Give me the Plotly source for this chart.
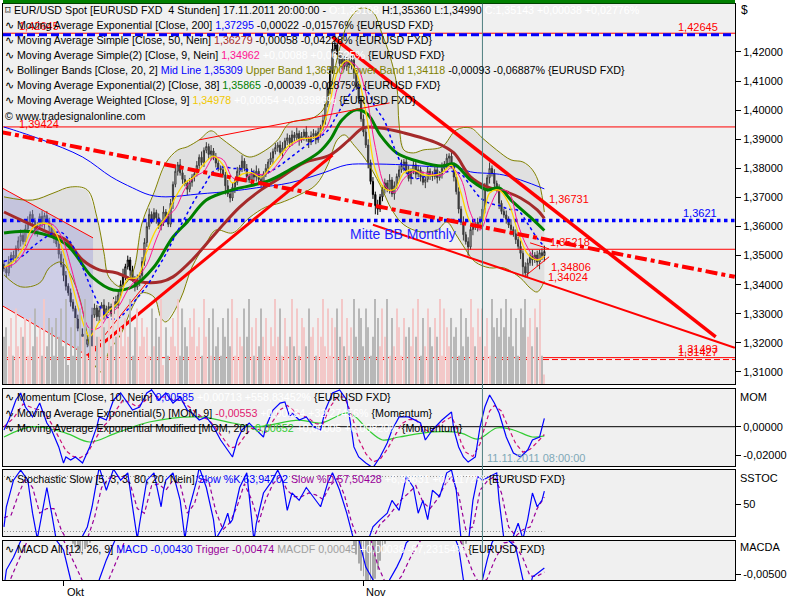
import plotly.graph_objects as go

W, H = 800, 600
FONT = "Liberation Sans"

# ---------------- data ----------------
# 4-hour EUR/USD closes, bar 0 = late September, last bar = 17.11.2011 20:00
close = [
    1.3455, 1.3440, 1.3478, 1.3502, 1.3490, 1.3525, 1.3551, 1.3570, 1.3548, 1.3592,
    1.3615, 1.3642, 1.3620, 1.3580, 1.3601, 1.3635, 1.3612, 1.3638, 1.3620, 1.3598,
    1.3575, 1.3558, 1.3540, 1.3505, 1.3470, 1.3432, 1.3395, 1.3372, 1.3340, 1.3318,
    1.3282, 1.3250, 1.3222, 1.3230, 1.3195, 1.3212, 1.3188, 1.3296, 1.3320, 1.3290,
    1.3312, 1.3330, 1.3295, 1.3318, 1.3325, 1.3300, 1.3342, 1.3330, 1.3365, 1.3400,
    1.3430, 1.3462, 1.3485, 1.3450, 1.3420, 1.3392, 1.3415, 1.3432, 1.3480, 1.3545,
    1.3600, 1.3642, 1.3625, 1.3648, 1.3630, 1.3602, 1.3612, 1.3650, 1.3635, 1.3608,
    1.3680, 1.3745, 1.3790, 1.3812, 1.3785, 1.3762, 1.3748, 1.3728, 1.3752, 1.3770,
    1.3782, 1.3810, 1.3838, 1.3820, 1.3862, 1.3875, 1.3848, 1.3860, 1.3838, 1.3818,
    1.3800, 1.3795, 1.3778, 1.3740, 1.3712, 1.3698, 1.3735, 1.3752, 1.3790, 1.3802,
    1.3825, 1.3800, 1.3772, 1.3760, 1.3785, 1.3770, 1.3790, 1.3762, 1.3745, 1.3780,
    1.3800, 1.3822, 1.3835, 1.3858, 1.3872, 1.3880, 1.3855, 1.3870, 1.3895, 1.3905,
    1.3888, 1.3915, 1.3905, 1.3920, 1.3898, 1.3910, 1.3925, 1.3902, 1.3890, 1.3912,
    1.3920, 1.3898, 1.3925, 1.3940, 1.3965, 1.4020, 1.4075, 1.4135, 1.4210, 1.4225,
    1.4190, 1.4160, 1.4175, 1.4150, 1.4168, 1.4155, 1.4172, 1.4128, 1.4080, 1.4040,
    1.3970, 1.3925, 1.3880, 1.3820, 1.3755, 1.3710, 1.3672, 1.3660, 1.3702, 1.3728,
    1.3750, 1.3728, 1.3760, 1.3712, 1.3740, 1.3772, 1.3795, 1.3810, 1.3822, 1.3790,
    1.3765, 1.3790, 1.3812, 1.3780, 1.3795, 1.3770, 1.3752, 1.3762, 1.3790, 1.3775,
    1.3772, 1.3795, 1.3768, 1.3780, 1.3800, 1.3815, 1.3835, 1.3842, 1.3810, 1.3770,
    1.3720, 1.3660, 1.3615, 1.3572, 1.3548, 1.3530, 1.3590, 1.3605, 1.3598, 1.3615,
    1.3620, 1.3660, 1.3730, 1.3768, 1.3800, 1.3782, 1.3748, 1.3730, 1.3680, 1.3652,
    1.3640, 1.3625, 1.3605, 1.3590, 1.3575, 1.3555, 1.3532, 1.3508, 1.3462, 1.3440,
    1.3475, 1.3500, 1.3485, 1.3502, 1.3478, 1.3510, 1.3500, 1.35143,
]
first_open = 1.3470
# wick lengths in steps of 0.0005 (one digit per bar)
wick_up = "".join([
    "3242323423", "4232324232", "2323243232", "2324232532", "3242323423",
    "5232324233", "3423232423", "3242423232", "2324232423", "3232423232",
    "4232324232", "3242323423", "2324232423", "3232424348", "3242323423",
    "2324232423", "3242323423", "4232324232", "3232423242", "2324232423",
    "3242423232", "2324232423", "32423234",
])
wick_dn = "".join([
    "2324232423", "3242323423", "2323243232", "3242328323", "4232326232",
    "2324232423", "3232423242", "2423232423", "3242323423", "2326232423",
    "3242323423", "2324232423", "3232423242", "2324232423", "3242323423",
    "2324236423", "3232423242", "2423232423", "3242323423", "2324262423",
    "3232423242", "2324232463", "32423534",
])
# relative volume per bar (one digit per bar)
volume_digits = "".join([
    "5647384657", "3748563947", "6375849263", "7485936475", "5863749586",
    "4759368475", "6384759263", "5749386475", "8463957384", "6375849375",
    "4859637485", "7364958374", "5948376485", "6375948376", "8594736958",
    "7486359748", "5937486375", "6485937486", "4759386475", "6384759648",
    "5847396758", "6958473869", "57486931",
])

# overlays (bar index, value)
ema200_i = [0, 4, 16, 33, 45, 54, 61, 68, 82, 96, 106, 120, 134, 144, 154, 168, 182, 190, 196, 210, 227]
ema200_v = [1.3942, 1.3932, 1.3898, 1.3839, 1.3771, 1.3733, 1.3709, 1.3702, 1.3712, 1.3722, 1.3733,
            1.3750, 1.3784, 1.3812, 1.3815, 1.3812, 1.3805, 1.3805, 1.3788, 1.3777, 1.37295]

sma50_i = [0, 7, 19, 26, 33, 40, 47, 57, 66, 71, 79, 89, 99, 108, 116, 126, 137, 145, 151, 158,
           168, 182, 189, 196, 203, 210, 217, 224, 227]
sma50_v = [1.3650, 1.3623, 1.3578, 1.3554, 1.3485, 1.3451, 1.3441, 1.3410, 1.3410, 1.3427, 1.3485,
           1.3578, 1.3667, 1.3726, 1.3767, 1.3819, 1.3846, 1.3898, 1.3939, 1.3939, 1.3922, 1.3887,
           1.3853, 1.3771, 1.3736, 1.3722, 1.3698, 1.3657, 1.36279]

ema38_i = [0, 12, 26, 37, 46, 54, 63, 71, 77, 85, 96, 105, 112, 120, 132, 137, 142, 148, 153, 158,
           165, 175, 184, 189, 196, 203, 208, 213, 221, 227]
ema38_v = [1.3578, 1.3582, 1.3540, 1.3427, 1.3382, 1.3393, 1.3461, 1.3564, 1.3616, 1.3691, 1.3726,
           1.3743, 1.3760, 1.3795, 1.3853, 1.3898, 1.3966, 1.4001, 1.3984, 1.3915, 1.3853, 1.3822,
           1.3808, 1.3815, 1.3760, 1.3726, 1.3733, 1.3691, 1.3633, 1.35865]

ma9_i = [0, 4, 8, 12, 16, 20, 24, 28, 32, 36, 40, 44, 48, 52, 56, 60, 64, 68, 72, 76, 80, 84, 88,
         92, 96, 100, 104, 108, 112, 116, 120, 124, 128, 132, 136, 140, 144, 148, 152, 156, 160,
         164, 168, 172, 176, 180, 184, 188, 192, 196, 200, 204, 208, 212, 216, 220, 224, 227]
sma9_v = [1.3460, 1.3470, 1.3507, 1.3573, 1.3605, 1.3609, 1.3568, 1.3465, 1.3342, 1.3249, 1.3252,
          1.3297, 1.3324, 1.3382, 1.3424, 1.3469, 1.3557, 1.3627, 1.3661, 1.3729, 1.3770, 1.3790,
          1.3837, 1.3830, 1.3768, 1.3759, 1.3780, 1.3779, 1.3788, 1.3827, 1.3873, 1.3895, 1.3906,
          1.3909, 1.3949, 1.4076, 1.4165, 1.4153, 1.4058, 1.3872, 1.3742, 1.3717, 1.3765, 1.3788,
          1.3786, 1.3779, 1.3777, 1.3802, 1.3763, 1.3646, 1.3588, 1.3665, 1.3724, 1.3718, 1.3606,
          1.3527, 1.3487, 1.34962]
wma9_v = [1.3460, 1.3480, 1.3525, 1.3595, 1.3612, 1.3600, 1.3535, 1.3420, 1.3300, 1.3222, 1.3272,
          1.3310, 1.3340, 1.3420, 1.3425, 1.3515, 1.3590, 1.3632, 1.3700, 1.3750, 1.3772, 1.3815,
          1.3842, 1.3812, 1.3750, 1.3780, 1.3785, 1.3770, 1.3805, 1.3845, 1.3880, 1.3900, 1.3904,
          1.3912, 1.3995, 1.4130, 1.4170, 1.4130, 1.3995, 1.3795, 1.3730, 1.3728, 1.3785, 1.3795,
          1.3778, 1.3776, 1.3785, 1.3810, 1.3715, 1.3615, 1.3600, 1.3715, 1.3725, 1.3680, 1.3580,
          1.3505, 1.3485, 1.34978]
bbmid_v = [1.3480, 1.3490, 1.3500, 1.3530, 1.3555, 1.3575, 1.3580, 1.3545, 1.3480, 1.3400, 1.3330,
           1.3285, 1.3285, 1.3315, 1.3355, 1.3395, 1.3450, 1.3505, 1.3570, 1.3630, 1.3690, 1.3740,
           1.3790, 1.3805, 1.3800, 1.3798, 1.3790, 1.3775, 1.3790, 1.3810, 1.3835, 1.3860, 1.3885,
           1.3905, 1.3930, 1.3985, 1.4040, 1.4075, 1.4070, 1.4010, 1.3960, 1.3870, 1.3800, 1.3765,
           1.3770, 1.3782, 1.3785, 1.3790, 1.3780, 1.3740, 1.3700, 1.3680, 1.3672, 1.3660, 1.3655,
           1.3610, 1.3560, 1.35309]

bbup_i = [0, 12, 21, 28, 35, 39, 42, 44, 49, 54, 58, 63, 68, 73, 77, 82, 87, 91, 96, 103, 110, 115,
          120, 129, 134, 137, 140, 142, 145, 150, 155, 159, 162, 165, 166, 168, 172, 176, 184, 190,
          196, 201, 207, 213, 218, 222, 225, 227]
bbup_v = [1.3702, 1.3691, 1.3716, 1.3736, 1.3726, 1.3633, 1.3509, 1.3427, 1.3393, 1.3441, 1.3612,
          1.3716, 1.3819, 1.3863, 1.3874, 1.3898, 1.3929, 1.3905, 1.3874, 1.3839, 1.3863, 1.3898,
          1.3956, 1.3970, 1.4001, 1.4069, 1.4179, 1.4241, 1.4310, 1.4351, 1.4337, 1.4258, 1.4190,
          1.4087, 1.3949, 1.3863, 1.3853, 1.3863, 1.3874, 1.3932, 1.3939, 1.3904, 1.3863, 1.3829,
          1.3822, 1.3795, 1.3743, 1.36500]
bblo_i = [0, 7, 15, 19, 24, 28, 32, 35, 38, 41, 44, 49, 54, 58, 63, 66, 68, 74, 79, 85, 89, 96, 103,
          110, 116, 124, 131, 136, 140, 143, 147, 152, 158, 163, 168, 175, 182, 186, 190, 194, 198,
          204, 210, 217, 221, 224, 227]
bblo_v = [1.3434, 1.3393, 1.3406, 1.3458, 1.3478, 1.3434, 1.3348, 1.3228, 1.3125, 1.3100, 1.3169,
          1.3228, 1.3324, 1.3372, 1.3358, 1.3286, 1.3272, 1.3348, 1.3461, 1.3544, 1.3588, 1.3578,
          1.3630, 1.3667, 1.3681, 1.3709, 1.3743, 1.3812, 1.3898, 1.3915, 1.3880, 1.3829, 1.3743,
          1.3657, 1.3606, 1.3582, 1.3588, 1.3616, 1.3571, 1.3520, 1.3478, 1.3458, 1.3458, 1.3423,
          1.3389, 1.3375, 1.34118]

# drawing tools: trend lines (bar index, price)
up_trend_x, up_trend_y = [35, 138], [1.3155, 1.3846]
down_trend_x, down_trend_y = [138, 299], [1.4252, 1.3221]
dashdot_x, dashdot_y = [-2, 307], [1.3926, 1.3427]
lower_ch_x, lower_ch_y = [155, 307], [1.3606, 1.3183]
top_thin_x, top_thin_y = [82, 162], [1.3898, 1.4025]
left_up_x, left_up_y = [-2, 37.4], [1.3738, 1.3561]
left_lo_x, left_lo_y = [-2, 36], [1.3334, 1.3152]
fan_x, fan_y = [35, 60], [1.3152, 1.3407]
tri1_x, tri1_y = [219, 229], [1.3430, 1.3496]
tri2_x, tri2_y = [221, 229], [1.3544, 1.3523]
channel_x = [-2, 37.4, 37.4, -2]
channel_y = [1.3738, 1.3561, 1.3146, 1.3336]

level_red = [1.42645, 1.39424, 1.35218, 1.31493]
level_red_dash = [1.31427]
level_blue_dash = [1.4259]
level_blue_dot = [1.3621]
cursor_bar = 201

# momentum panel
mom_i = [0, 2, 5, 7, 9, 12, 15, 18, 20, 23, 25, 26, 28, 30, 33, 36, 39, 40, 43, 46, 49, 51, 54, 57,
         60, 62, 65, 68, 71, 74, 77, 79, 82, 85, 88, 91, 93, 96, 98, 100, 103, 106, 109, 110, 113,
         116, 118, 120, 121, 124, 127, 130, 133, 135, 138, 141, 144, 146, 147, 149, 152, 155, 158,
         161, 163, 166, 170, 175, 177, 180, 184, 188, 189, 191, 193, 195, 198, 200, 202, 204, 206,
         208, 211, 214, 217, 220, 222, 225, 227]
mom_v = [-0.0023, 0.0047, 0.0189, 0.0238, 0.0139, 0.0069, 0.0167, 0.0026, -0.0023, -0.0143,
         -0.0257, -0.0214, -0.0235, -0.0214, -0.0257, -0.0143, 0.0, 0.0069, 0.0047, 0.0189,
         0.0238, 0.0189, 0.0118, 0.0139, 0.0238, 0.0260, 0.0189, 0.0238, 0.0167, 0.0210,
         0.0118, 0.0097, 0.0047, 0.0069, 0.0, -0.0094, -0.0143, -0.0214, -0.0094, -0.0023,
         0.0026, -0.0023, -0.0073, 0.0, 0.0118, 0.0167, 0.0175, 0.0069, 0.0097, 0.0047,
         0.0069, 0.0, -0.0023, 0.0118, 0.0238, 0.0260, 0.0189, -0.0023, -0.0143, -0.0214,
         -0.0257, -0.0290, -0.0214, -0.0115, -0.0023, 0.0069, 0.0069, 0.0026, -0.0094, -0.0023,
         0.0047, 0.0104, -0.0023, -0.0143, -0.0214, -0.0250, -0.0214, 0.0, 0.0139, 0.0224,
         0.0167, 0.0097, -0.0073, -0.0186, -0.0214, -0.0165, -0.0094, -0.0073, 0.00585]
momema_i = [0, 4, 8, 11, 14, 17, 20, 23, 26, 29, 32, 35, 38, 41, 44, 47, 50, 53, 56, 59, 62, 65, 68,
            71, 74, 77, 80, 83, 86, 89, 92, 95, 98, 101, 104, 107, 110, 113, 116, 119, 122, 125,
            128, 131, 134, 137, 140, 143, 146, 149, 152, 155, 158, 161, 164, 167, 170, 173, 176,
            179, 182, 185, 188, 190, 192, 194, 197, 200, 202, 204, 206, 209, 212, 215, 218, 221,
            224, 227]
momema_v = [0.000, 0.006, 0.016, 0.014, 0.012, 0.010, 0.002, -0.008, -0.017, -0.021, -0.022,
            -0.019, -0.010, -0.001, 0.004, 0.012, 0.019, 0.017, 0.014, 0.018, 0.022, 0.021,
            0.021, 0.019, 0.019, 0.015, 0.011, 0.007, 0.005, -0.001, -0.008, -0.015, -0.014,
            -0.007, -0.001, -0.002, -0.004, 0.004, 0.012, 0.015, 0.011, 0.008, 0.006, 0.002,
            0.002, 0.014, 0.021, 0.021, 0.009, -0.009, -0.019, -0.025, -0.023, -0.016, -0.007,
            0.002, 0.005, 0.005, -0.001, -0.004, 0.000, 0.004, 0.007, 0.000, -0.011, -0.018,
            -0.021, -0.012, 0.000, 0.011, 0.015, 0.011, -0.001, -0.012, -0.018, -0.016, -0.011,
            -0.00553]
momsig_i = [0, 12, 26, 36, 47, 61, 82, 96, 106, 124, 133, 145, 153, 159, 166, 180, 192, 199, 207,
            214, 222, 227]
momsig_v = [-0.0073, 0.0, -0.0045, -0.0108, -0.0045, 0.0033, 0.0069, 0.0026, 0.0, 0.0047, 0.0026,
            0.0097, -0.0023, -0.0094, -0.0073, -0.0037, -0.0045, -0.0087, -0.0009, -0.0023,
            -0.0073, -0.00652]

# stochastic panel
stk_i = [0, 1, 4, 7, 10, 12, 14, 16, 18, 20, 22, 26, 31, 35, 37, 39, 40, 43, 46, 49, 52, 54, 56, 57,
         60, 63, 66, 67, 68, 71, 74, 76, 78, 81, 82, 85, 88, 89, 92, 94, 95, 96, 99, 102, 105, 106,
         109, 112, 115, 117, 119, 121, 124, 127, 130, 133, 136, 138, 141, 144, 147, 150, 152, 155,
         158, 161, 163, 166, 169, 172, 174, 176, 178, 180, 183, 186, 188, 190, 192, 195, 197, 199,
         201, 204, 207, 208, 210, 213, 216, 218, 220, 222, 224, 226, 227]
stk_v = [25, 47, 76, 87, 76, 40, 12, 40, 68, 40, 10, 5, 5, 25, 47, 76, 90, 65, 88, 76, 84, 47, 12,
         29, 76, 84, 47, 65, 76, 84, 54, 12, 47, 76, 90, 68, 33, 12, 25, 40, 29, 33, 68, 84, 10, 29,
         62, 73, 87, 76, 43, 62, 54, 68, 58, 47, 73, 84, 65, 40, 10, 3, 3, 25, 33, 40, 54, 43, 80,
         68, 40, 54, 33, 65, 58, 84, 87, 65, 12, 5, 54, 80, 76, 80, 84, 54, 12, 8, 29, 12, 33, 62,
         47, 54, 63.94702]
std_i = [0, 3, 6, 9, 12, 15, 18, 21, 24, 27, 31, 35, 38, 41, 44, 47, 50, 53, 56, 59, 62, 65, 68, 71,
         74, 77, 80, 83, 86, 89, 92, 95, 98, 101, 104, 107, 110, 113, 116, 119, 122, 125, 128, 131,
         134, 137, 140, 143, 146, 149, 152, 155, 158, 161, 164, 167, 170, 173, 176, 179, 182, 185,
         188, 191, 194, 197, 200, 203, 206, 209, 212, 215, 218, 221, 224, 227]
std_v = [35, 38, 60, 78, 68, 40, 45, 45, 22, 8, 5, 12, 35, 68, 78, 80, 80, 72, 45, 40, 70, 72, 65,
         76, 72, 40, 50, 78, 75, 42, 22, 30, 48, 72, 55, 30, 55, 72, 80, 65, 58, 58, 62, 60, 55, 70,
         78, 60, 30, 10, 5, 12, 28, 35, 45, 55, 62, 70, 52, 45, 55, 70, 80, 60, 22, 25, 65, 75, 80,
         62, 25, 15, 22, 25, 45, 57.50428]
stoch_levels = [80, 20]

# MACD panel
macd_i = [0, 1, 4, 6, 10, 15, 20, 25, 28, 32, 36, 38, 40, 43, 46, 52, 70, 90, 100, 120, 138, 145,
          148, 150, 152, 155, 158, 161, 162, 165, 167, 169, 175, 185, 188, 191, 193, 197, 201, 203,
          205, 208, 211, 215, 218, 221, 222, 224, 227]
macd_v = [-0.0065, -0.0045, -0.0031, -0.0015, 0.0005, 0.0010, -0.0005, -0.0023, -0.0056, -0.0090,
          -0.0100, -0.0080, -0.0056, -0.0034, -0.0015, 0.0020, 0.0040, 0.0050, 0.0030, 0.0040,
          0.0080, 0.0060, 0.0000, -0.0020, -0.0042, -0.0056, -0.0075, -0.0070, -0.0056, -0.0042,
          -0.0031, -0.0015, 0.0000, 0.0010, 0.0000, -0.0020, -0.0056, -0.0075, -0.0056, -0.0034,
          -0.0015, 0.0000, -0.0010, -0.0020, -0.0056, -0.0065, -0.0053, -0.0049, -0.0043]
trig_i = [0, 2, 6, 10, 15, 20, 25, 29, 33, 37, 41, 44, 48, 52, 60, 75, 90, 105, 125, 140, 147, 151,
          154, 157, 160, 164, 167, 171, 176, 183, 189, 193, 197, 200, 203, 206, 210, 214, 218, 221,
          224, 227]
trig_v = [-0.0085, -0.0060, -0.0035, -0.0012, 0.0005, 0.0003, -0.0012, -0.0035, -0.0058, -0.0080,
          -0.0075, -0.0056, -0.0030, -0.0005, 0.0020, 0.0038, 0.0045, 0.0035, 0.0040, 0.0068,
          0.0055, 0.0025, -0.0010, -0.0040, -0.0058, -0.0062, -0.0052, -0.0030, -0.0008, 0.0005,
          0.0002, -0.0020, -0.0048, -0.0062, -0.0055, -0.0035, -0.0015, -0.0014, -0.0032, -0.0052,
          -0.0052, -0.00474]
macdf_i = [29, 30, 31, 32, 33, 34, 35, 36,
           147, 148, 149, 150, 151, 152, 153, 154, 155, 156, 157, 158, 159, 160,
           192, 193, 194]
macdf_v = [-0.0016, -0.0020, -0.0023, -0.0025, -0.0024, -0.0022, -0.0019, -0.0015,
           -0.0018, -0.0028, -0.0038, -0.0046, -0.0052, -0.0058, -0.0062, -0.0064, -0.0062,
           -0.0055, -0.0045, -0.0035, -0.0025, -0.0016,
           -0.0015, -0.0018, -0.0016]

price_ticks = [1.31, 1.32, 1.33, 1.34, 1.35, 1.36, 1.37, 1.38, 1.39, 1.40, 1.41, 1.42]
price_tick_text = ["1,31000", "1,32000", "1,33000", "1,34000", "1,35000", "1,36000",
                   "1,37000", "1,38000", "1,39000", "1,40000", "1,41000", "1,42000"]
month_ticks = [25, 151]
month_labels = ["Okt", "Nov"]

# ---------------- derived candle values ----------------
bars = list(range(len(close)))
opens = [first_open] + close[:-1]
highs = [max(o, c) + int(u) * 0.0005 for o, c, u in zip(opens, close, wick_up)]
lows = [min(o, c) - int(d) * 0.0005 for o, c, d in zip(opens, close, wick_dn)]
vol = [int(v) for v in volume_digits]
vol_colors = ["#F3C8C8" if c >= o else "#B8B8B8" for o, c in zip(opens, close)]


# ---------------- layout helpers ----------------
def pxx(x):
    return x / W


def pxy(y):
    return 1 - y / H


XR = [-0.42, 307.1]
XDOM = [pxx(3), pxx(735)]

fig = go.Figure()


def line(x, y, color, width=1, dash=None, xa="x", ya="y", shape="linear", fill=None, fillcolor=None):
    fig.add_trace(go.Scatter(x=x, y=y, mode="lines", xaxis=xa, yaxis=ya,
                             line=dict(color=color, width=width, dash=dash, shape=shape),
                             fill=fill, fillcolor=fillcolor,
                             hoverinfo="skip", showlegend=False))


# Bollinger fill
line(bbup_i + bblo_i[::-1], bbup_v + bblo_v[::-1], "rgba(0,0,0,0)", 0,
     fill="toself", fillcolor="rgba(190,190,190,0.30)")
# lavender channel
line(channel_x, channel_y, "rgba(0,0,0,0)", 0, fill="toself", fillcolor="rgba(150,150,215,0.38)")

# volume
fig.add_trace(go.Bar(x=bars, y=vol, marker=dict(color=vol_colors, line=dict(width=0)),
                     width=0.45, xaxis="x", yaxis="y5", hoverinfo="skip", showlegend=False))

# horizontal levels
for v in level_red:
    line(XR, [v, v], "#FF0000", 1)
for v in level_red_dash:
    line(XR, [v, v], "#FF0000", 1, dash="6px,3px")
for v in level_blue_dash:
    line(XR, [v, v], "#0000FF", 3, dash="8px,4px")
for v in level_blue_dot:
    line(XR, [v, v], "#0000FF", 3.5, dash="dot")

# bands & averages
line(bbup_i, bbup_v, "#808000", 1, shape="spline")
line(bblo_i, bblo_v, "#808000", 1, shape="spline")
line(ema200_i, ema200_v, "#0000FF", 1, shape="spline")
line(sma50_i, sma50_v, "#A52A2A", 3, shape="spline")
line(ema38_i, ema38_v, "#008000", 3, shape="spline")
line(ma9_i, bbmid_v, "#0000FF", 1.5, dash="dot", shape="spline")

# candles
fig.add_trace(go.Candlestick(x=bars, open=opens, high=highs, low=lows, close=close,
                             xaxis="x", yaxis="y",
                             increasing=dict(line=dict(color="black", width=1), fillcolor="white"),
                             decreasing=dict(line=dict(color="black", width=1), fillcolor="black"),
                             whiskerwidth=0, hoverinfo="skip", showlegend=False))

line(ma9_i, sma9_v, "#FF1493", 1, shape="spline")
line(ma9_i, wma9_v, "#FFD700", 1.3, shape="spline")

# trend lines
line(up_trend_x, up_trend_y, "#FF0000", 3)
line(down_trend_x, down_trend_y, "#FF0000", 3.5)
line(dashdot_x, dashdot_y, "#FF0000", 4, dash="dashdot")
line(lower_ch_x, lower_ch_y, "#FF0000", 2)
line(top_thin_x, top_thin_y, "#FF0000", 1)
line(left_up_x, left_up_y, "#FF0000", 1)
line(left_lo_x, left_lo_y, "#FF0000", 1)
line(fan_x, fan_y, "#FF0000", 1)
line(tri1_x, tri1_y, "#FF0000", 1)
line(tri2_x, tri2_y, "#FF0000", 1)

# momentum panel
line(XR, [0, 0], "black", 1, xa="x2", ya="y2")
line(momsig_i, momsig_v, "#33CC33", 1.2, xa="x2", ya="y2", shape="spline")
line(momema_i, momema_v, "#CC1177", 1.2, dash="4px,3px", xa="x2", ya="y2")
line(mom_i, mom_v, "#0000FF", 1.2, xa="x2", ya="y2")

# stochastic panel
for v in stoch_levels:
    line([0, 227], [v, v], "#909090", 1, dash="1px,2px", xa="x3", ya="y3")
line(std_i, std_v, "#990099", 1.2, dash="4px,3px", xa="x3", ya="y3")
line(stk_i, stk_v, "#0000FF", 1.2, xa="x3", ya="y3")

# MACD panel
fig.add_trace(go.Bar(x=macdf_i, y=macdf_v, marker=dict(color="#A8A8A8", line=dict(width=0)),
                     width=0.35, xaxis="x4", yaxis="y4", hoverinfo="skip", showlegend=False))
line(trig_i, trig_v, "#990099", 1.2, dash="4px,3px", xa="x4", ya="y4")
line(macd_i, macd_v, "#0000FF", 1.2, xa="x4", ya="y4")

# ---------------- axes ----------------
axis_common = dict(showgrid=False, zeroline=False, showline=True, mirror=True,
                   linecolor="black", linewidth=1)
xbase = dict(domain=XDOM, range=XR, showticklabels=False, ticks="", **axis_common)

ybase = dict(side="right", ticks="outside", ticklen=5, tickcolor="black",
             tickfont=dict(family=FONT, size=11, color="black"), **axis_common)

fig.update_layout(
    width=W, height=H,
    margin=dict(l=0, r=0, t=0, b=0, pad=0),
    paper_bgcolor="white", plot_bgcolor="#F0F0F0",
    font=dict(family=FONT, size=11, color="black"),
    showlegend=False, barmode="overlay",
    xaxis=dict(anchor="y", rangeslider=dict(visible=False), **xbase),
    xaxis2=dict(anchor="y2", matches="x", **xbase),
    xaxis3=dict(anchor="y3", matches="x", **xbase),
    xaxis4=dict(anchor="y4", matches="x", **{**xbase, "ticks": "outside", "ticklen": 5,
                                              "tickvals": month_ticks, "tickcolor": "black"}),
    yaxis=dict(anchor="x", domain=[pxy(384), pxy(3.5)], range=[1.30587, 1.43667],
               tickvals=price_ticks, ticktext=price_tick_text, **ybase),
    yaxis2=dict(anchor="x2", domain=[pxy(466), pxy(389)], range=[-0.02777, 0.02664],
                tickvals=[0, -0.02], ticktext=["0,00000", "-0,02000"], **ybase),
    yaxis3=dict(anchor="x3", domain=[pxy(536), pxy(470)], range=[15.1, 87.1],
                tickvals=[50], ticktext=["50"], **ybase),
    yaxis4=dict(anchor="x4", domain=[pxy(580), pxy(541)], range=[-0.00563, -0.0013],
                tickvals=[-0.005], ticktext=["-0,00500"], **ybase),
    yaxis5=dict(overlaying="y", range=[0, 40.3], visible=False, anchor="x"),
)

# cursor line and top status bar
fig.add_shape(type="line", xref="x", yref="paper", x0=cursor_bar, x1=cursor_bar,
              y0=pxy(580), y1=pxy(3.5), line=dict(color="#4F7F80", width=1))
fig.add_shape(type="rect", xref="paper", yref="paper", x0=pxx(3), x1=pxx(735),
              y0=pxy(3.5), y1=pxy(0), fillcolor="#008000", line=dict(width=0))

# ---------------- texts ----------------
ann = []
LS = 10.7  # legend font size


def note(text, x, y, color="black", size=11, xanchor="left"):
    ann.append(dict(text=text, x=pxx(x), y=pxy(y), xref="paper", yref="paper",
                    xanchor=xanchor, yanchor="middle", showarrow=False,
                    font=dict(family=FONT, size=size, color=color)))


def sp(t, c):
    return f"<span style='color:{c}'>{t}</span>"


note("1,42645", 17, 26, "#FF0000")
note("1,39424", 17, 124, "#FF0000")

note("⌑ EUR/USD Spot [EURUSD FXD  4 Stunden] 17.11.2011 20:00:00 - " + sp("O:1,35108", "white")
     + " H:1,35360 L:1,34990 " + sp("C:1,35143 +0,00038 +0,02776%", "white"), 3, 10, size=LS)
note("∿ Moving Average Exponential [Close, 200] " + sp("1,37295", "#0000FF")
     + " -0,00022 -0,01576% {EURUSD FXD}", 3, 25, size=LS)
note("∿ Moving Average Simple [Close, 50, Nein] " + sp("1,36279", "#A52A2A")
     + " -0,00058 -0,04228% {EURUSD FXD}", 3, 40, size=LS)
note("∿ Moving Average Simple(2) [Close, 9, Nein] " + sp("1,34962", "#FF1493") + " "
     + sp("+0,00088 +0,06525%", "white") + " {EURUSD FXD}", 3, 55, size=LS)
note("∿ Bollinger Bands [Close, 20, 2] " + sp("Mid Line 1,35309", "#0000FF") + " "
     + sp("Upper Band 1,36500", "#808000") + " " + sp("Lower Band 1,34118", "#808000")
     + " -0,00093 -0,06887% {EURUSD FXD}", 3, 70, size=LS)
note("∿ Moving Average Exponential(2) [Close, 38] " + sp("1,35865", "#008000")
     + " -0,00039 -0,02875% {EURUSD FXD}", 3, 85, size=LS)
note("∿ Moving Average Weighted [Close, 9] " + sp("1,34978", "#F0C800") + " "
     + sp("+0,00054 +0,03986%", "white") + " {EURUSD FXD}", 3, 100, size=LS)
note("© www.tradesignalonline.com", 3, 116, size=LS)

note("1,42645", 720, 27, "#FF0000", xanchor="right")
note("1,3621", 719, 213, "#0000FF", xanchor="right")
note("1,36731", 547, 199, "#FF0000")
note("1,35218", 548, 242, "#FF0000")
note("1,34806", 549, 267, "#FF0000")
note("1,34024", 546, 277, "#FF0000")
note("1,31493", 720, 349, "#FF0000", xanchor="right")
note("1,31427", 720, 352, "#FF0000", xanchor="right")
note("Mitte BB Monthly", 348, 234, "#1E1EFF", size=14)

note("$", 739, 10, "black", size=12)
note("MOM", 738, 397)
note("SSTOC", 738, 478)
note("MACDA", 738, 547)

note("∿ Momentum [Close, 10, Nein] " + sp("0,00585", "#0000FF") + " "
     + sp("+0,00713 +558,83452%", "white") + " {EURUSD FXD}", 3, 397, size=LS)
note("∿ Moving Average Exponential(5) [MOM, 9] " + sp("-0,00553", "#E0206F") + " "
     + sp("+0,00234 +32,27456%", "white") + " {Momentum}", 3, 413, size=LS)
note("∿ Moving Average Exponential Modified [MOM, 20] " + sp("-0,00652", "#33CC33") + " "
     + sp("+0,00005 +0,00820%", "white") + " {Momentum}", 3, 428, size=LS)
note("11.11.2011 08:00:00", 485, 458, "#7FA9B8")
note("∿ Stochastic Slow [5, 3, 3, 80, 20, Nein] " + sp("Slow %K 63,94702", "#0000FF") + " "
     + sp("Slow %D 57,50428", "#990099") + " " + sp("+6,39631 +0,11172%", "white")
     + " {EURUSD FXD}", 3, 479, size=LS)
note("∿ MACD All [12, 26, 9] " + sp("MACD -0,00430", "#0000FF") + " "
     + sp("Trigger -0,00474", "#990099") + " " + sp("MACDF 0,00045", "#A0A0A0") + " "
     + sp("+0,00038 -97,23154%", "white") + " {EURUSD FXD}", 3, 549, size=LS)

for t, lab in zip(month_ticks, month_labels):
    # month labels sit just right of their tick
    ann.append(dict(text=lab, x=t, y=pxy(592), xref="x4", yref="paper", xanchor="left",
                    yanchor="middle", xshift=1, showarrow=False,
                    font=dict(family=FONT, size=11, color="black")))

fig.update_layout(annotations=ann)
fig.write_html("out.html", config={"displayModeBar": False},
               post_script="document.body.style.margin='0';")
